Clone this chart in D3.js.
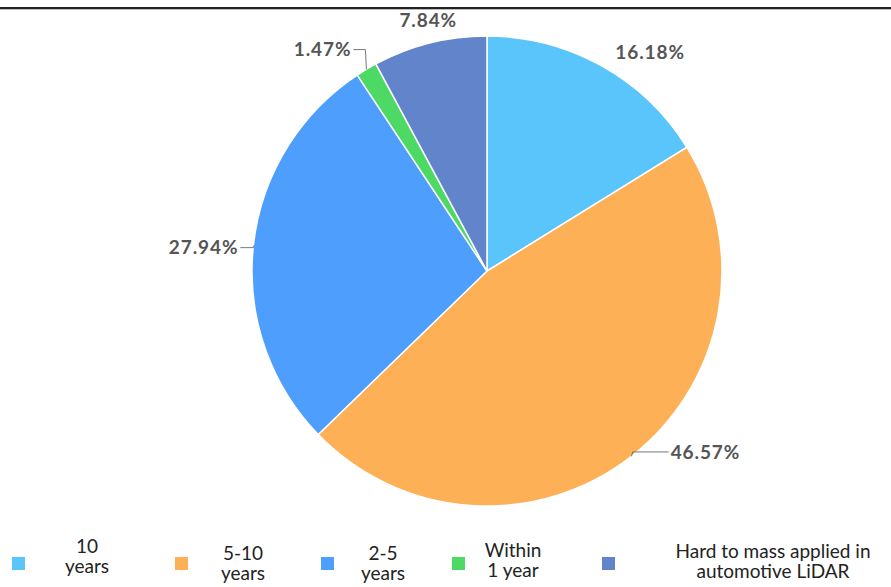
<!DOCTYPE html>
<html><head><meta charset="utf-8">
<script src="https://cdn.jsdelivr.net/npm/d3@7"></script>
<style>body{margin:0;background:#fff}svg{display:block}</style>
</head><body>
<svg id="c" width="891" height="587"></svg>
<script>
const categories = ["10 years", "5-10 years", "2-5 years", "Within 1 year", "Hard to mass applied in automotive LiDAR"];
const legendLines = [["10","years"],["5-10","years"],["2-5","years"],["Within","1 year"],["Hard to mass applied in","automotive LiDAR"]];
const values = [16.18, 46.57, 27.94, 1.47, 7.84];
const colors = ["#5ac5fa", "#fdb056", "#4e9ffd", "#4cd964", "#6184cb"];

const W = 891, H = 587;
const svg = d3.select("#c");
svg.append("rect").attr("x",0).attr("y",7).attr("width",W).attr("height",2).attr("fill","#222");
svg.append("rect").attr("x",0).attr("y",9).attr("width",W).attr("height",1).attr("fill","#bbb");

const cx = 487, cy = 271, R = 235;
const g = svg.append("g").attr("transform",`translate(${cx},${cy})`);
const pie = d3.pie().sort(null).value(d=>d)(values);
const arc = d3.arc().innerRadius(0).outerRadius(R);
g.selectAll("path").data(pie).join("path")
  .attr("d",arc).attr("fill",(d,i)=>colors[i])
  .attr("stroke","#fff").attr("stroke-width",1.5);

// label leader layout: [radial extension, horizontal run, vertical shift, show line]
const leader = [[4,10,-10,false],[2,36,-6,true],[0,13,2,true],[2,12,-18,true],[6,0,-7,false]];
const pt = (a,r)=>[r*Math.sin(a), -r*Math.cos(a)];
pie.forEach((d,i)=>{
  const a = (d.startAngle+d.endAngle)/2;
  const [l1,l2,dy,show] = leader[i];
  const right = Math.sin(a) >= 0;
  const p1 = pt(a,R), p2 = pt(a,R+l1);
  const p2b = [p2[0], p2[1]+dy];
  const p3 = [p2b[0] + (right? l2 : -l2), p2b[1]];
  if (show) g.append("path").attr("d",d3.line()([p1,p2b,p3]))
    .attr("fill","none").attr("stroke","#777").attr("stroke-width",1);
  const mid = i===4;
  g.append("text").attr("x", mid ? p3[0] : p3[0] + (right?2:-2)).attr("y", p3[1] + (mid?-10:0))
    .attr("dy","0.35em")
    .attr("text-anchor", mid ? "middle" : (right?"start":"end"))
    .attr("font-family","Lato, 'Open Sans', sans-serif").attr("font-weight","bold")
    .attr("font-size",19).attr("letter-spacing","0.9px").attr("fill","#555")
    .text(values[i].toFixed(2)+"%");
});

// legend
const sqX = [12,175,321,452,602];
const txX = [87,243,383,513,773];
const txY = [545,552,552,549,550];
legendLines.forEach((lines,i)=>{
  svg.append("rect").attr("x",sqX[i]).attr("y",557).attr("width",13).attr("height",13).attr("fill",colors[i]);
  const t = svg.append("text").attr("text-anchor","middle")
    .attr("font-family","Lato, 'Open Sans', sans-serif").attr("font-size",19).attr("fill","#222");
  lines.forEach((s,k)=>t.append("tspan").attr("x",txX[i]).attr("y",txY[i]+ k*20 + 8).text(s));
});
</script>
</body></html>
